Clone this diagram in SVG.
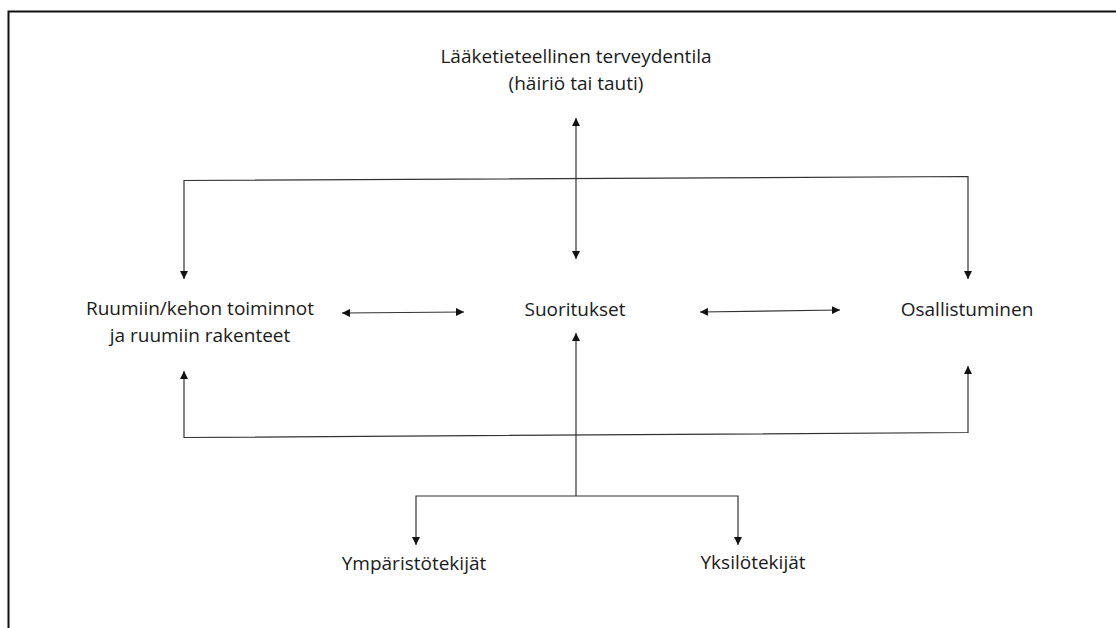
<svg xmlns="http://www.w3.org/2000/svg" width="1116" height="628" viewBox="0 0 1116 628">
<style>
text{font-family:"Open Sans","Noto Sans",sans-serif;font-size:19px;fill:#1a1a1a;text-anchor:middle}
.c{fill:none;stroke:#333;stroke-width:1.2}
.both{marker-start:url(#ah);marker-end:url(#ah)}
</style>
<defs>
<marker id="ah" viewBox="0 0 10 10" refX="10" refY="5" markerWidth="8" markerHeight="8" markerUnits="userSpaceOnUse" orient="auto-start-reverse"><path d="M0,0 L10,5 L0,10 z" fill="#111"/></marker>
</defs>
<rect width="1116" height="628" fill="#fff"/>
<path d="M8.5,628 V11.5 H1116" fill="none" stroke="#111" stroke-width="2"/>
<g id="connectors">
<path class="c both" d="M576,118 V259"/>
<path class="c both" d="M184,279 V180.5 L968,176.5 V279"/>
<path class="c both" d="M342,313 L464,312"/>
<path class="c both" d="M700,312 L840,310"/>
<path class="c both" d="M184,371 V437.5 L968,432.5 V366"/>
<path class="c" d="M576,333 V496" marker-start="url(#ah)"/>
<path class="c both" d="M416,545 V496 H738 V545"/>
</g>
<g id="terveydentila"><text x="576" y="63">Lääketieteellinen terveydentila</text><text x="576" y="90">(häiriö tai tauti)</text></g>
<g id="toiminnot"><text x="200" y="315">Ruumiin/kehon toiminnot</text><text x="200" y="342">ja ruumiin rakenteet</text></g>
<g id="suoritukset"><text x="575" y="316">Suoritukset</text></g>
<g id="osallistuminen"><text x="967" y="316">Osallistuminen</text></g>
<g id="ymparisto"><text x="414" y="570">Ympäristötekijät</text></g>
<g id="yksilo"><text x="753" y="569">Yksilötekijät</text></g>
</svg>
